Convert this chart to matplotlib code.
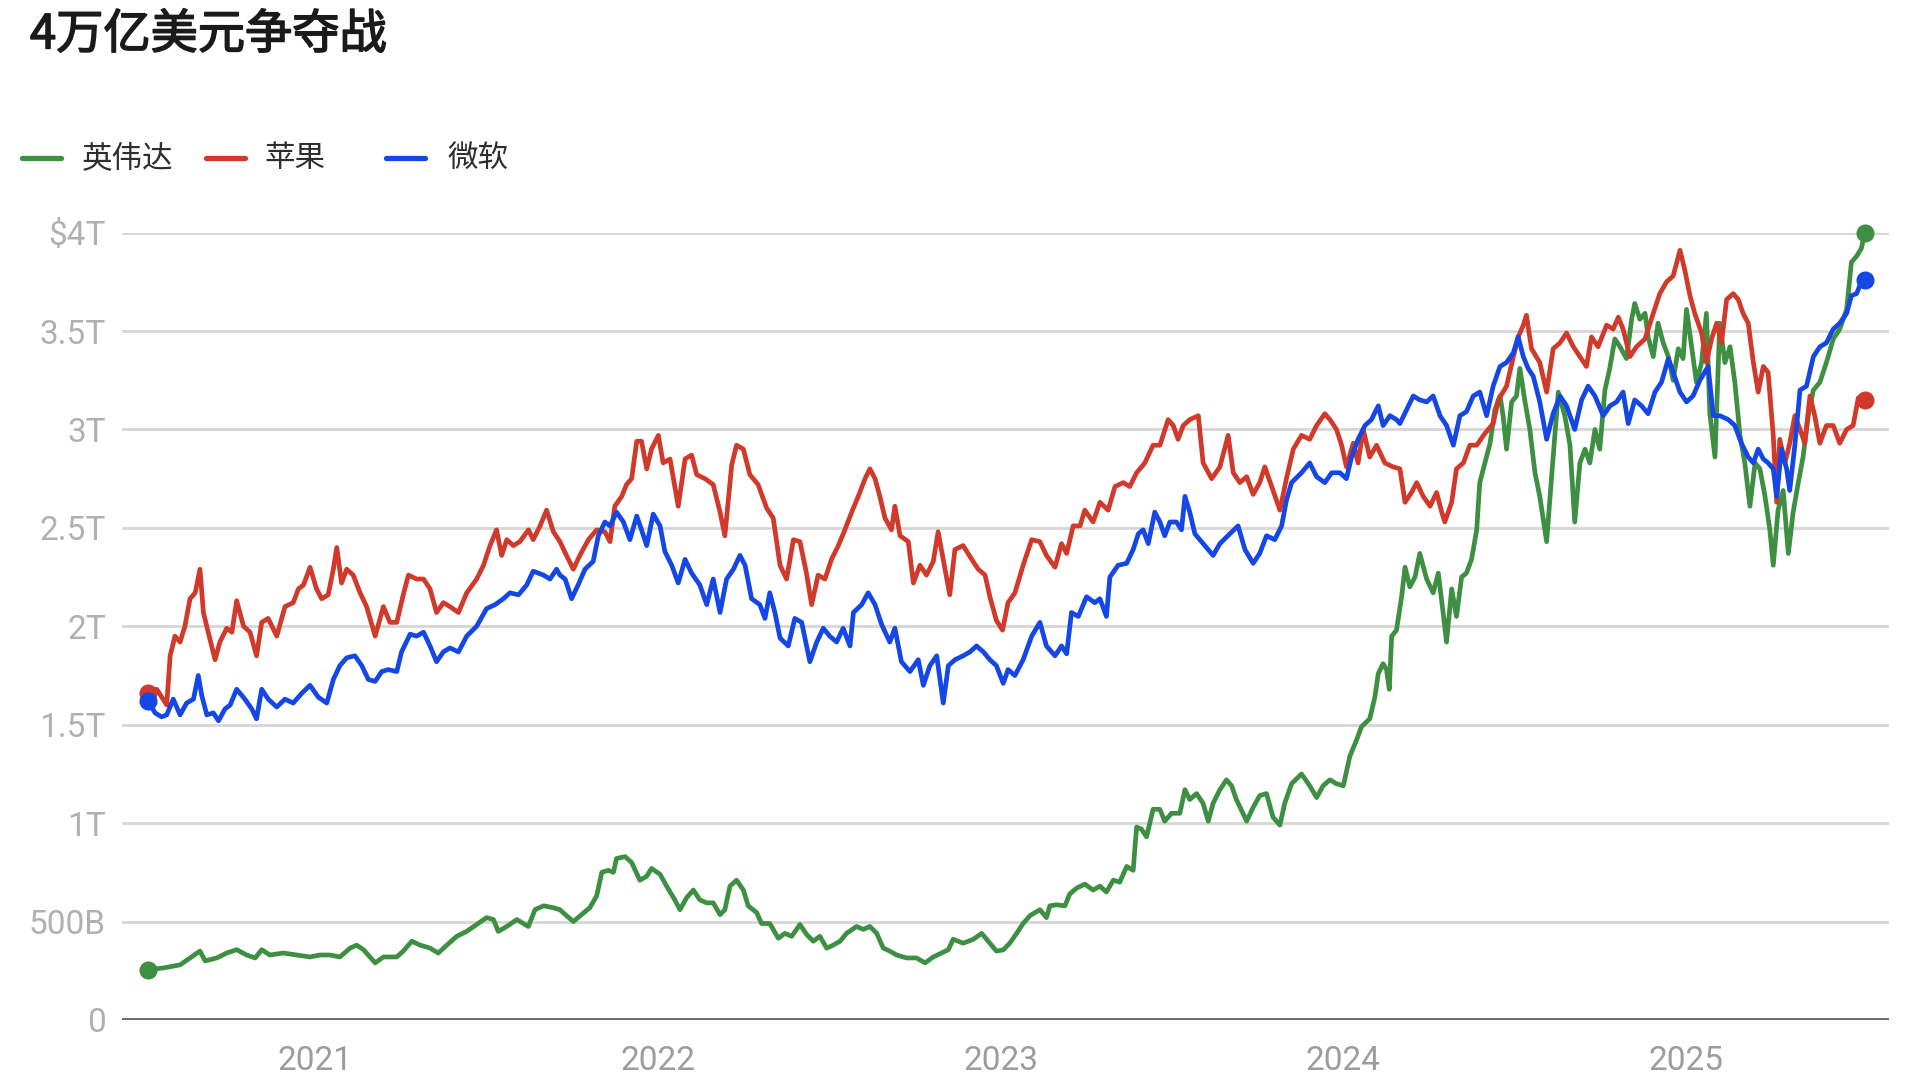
import matplotlib
matplotlib.use("Agg")
import matplotlib.pyplot as plt
import matplotlib.patheffects as pe
from matplotlib.lines import Line2D

plt.rcParams['font.family'] = ['Noto Sans CJK SC', 'DejaVu Sans']

# ---------------- data (decimal year, market cap in trillion USD) ----------------
nvda_t = [2020.514, 2020.558, 2020.607, 2020.636, 2020.665, 2020.680, 2020.714, 2020.743, 2020.772, 2020.801,
          2020.826, 2020.845, 2020.869, 2020.908, 2020.947, 2020.986, 2021.015, 2021.044, 2021.073, 2021.103,
          2021.122, 2021.142, 2021.161, 2021.176, 2021.200, 2021.239, 2021.258, 2021.283, 2021.307, 2021.336,
          2021.360, 2021.385, 2021.414, 2021.443, 2021.472, 2021.501, 2021.521, 2021.535, 2021.560, 2021.589,
          2021.608, 2021.623, 2021.642, 2021.667, 2021.696,
          2021.715, 2021.734, 2021.754, 2021.778, 2021.802, 2021.822, 2021.837, 2021.856, 2021.871, 2021.880,
          2021.905, 2021.924, 2021.948, 2021.968, 2021.982, 2022.007, 2022.026, 2022.050, 2022.065, 2022.084,
          2022.104, 2022.123, 2022.143, 2022.162, 2022.182, 2022.196, 2022.211, 2022.230, 2022.250, 2022.264,
          2022.289, 2022.303, 2022.327, 2022.352, 2022.371, 2022.391, 2022.415, 2022.434, 2022.454, 2022.473,
          2022.493, 2022.512, 2022.532, 2022.551, 2022.580, 2022.600, 2022.619, 2022.639, 2022.658, 2022.677,
          2022.697, 2022.726, 2022.755, 2022.780, 2022.804, 2022.828, 2022.848, 2022.862, 2022.891, 2022.921,
          2022.945,
          2022.969, 2022.988, 2023.008, 2023.027, 2023.047, 2023.066, 2023.086, 2023.115, 2023.134, 2023.144,
          2023.163, 2023.188, 2023.202, 2023.222, 2023.246, 2023.270, 2023.290, 2023.309, 2023.329, 2023.348,
          2023.368, 2023.387, 2023.397, 2023.411, 2023.426, 2023.445, 2023.465, 2023.479, 2023.499, 2023.523,
          2023.538, 2023.552, 2023.572, 2023.591, 2023.606, 2023.620, 2023.640, 2023.659, 2023.674, 2023.688,
          2023.718, 2023.737, 2023.756, 2023.776, 2023.795, 2023.815, 2023.829, 2023.849, 2023.878, 2023.902,
          2023.922, 2023.941, 2023.961, 2023.980, 2024.000, 2024.019, 2024.038, 2024.053, 2024.077, 2024.092,
          2024.102, 2024.116, 2024.126, 2024.134, 2024.141, 2024.155, 2024.170, 2024.180, 2024.194, 2024.209,
          2024.223,
          2024.243, 2024.262, 2024.277, 2024.291, 2024.301, 2024.316, 2024.330, 2024.345, 2024.359, 2024.374,
          2024.389, 2024.398, 2024.413, 2024.428, 2024.442, 2024.457, 2024.466, 2024.476, 2024.491, 2024.505,
          2024.515, 2024.530, 2024.544, 2024.559, 2024.573, 2024.593, 2024.607, 2024.627, 2024.646, 2024.661,
          2024.675, 2024.690, 2024.705, 2024.719, 2024.734, 2024.748, 2024.763, 2024.777, 2024.792, 2024.807,
          2024.826, 2024.841, 2024.850, 2024.865, 2024.880, 2024.889, 2024.904, 2024.918, 2024.933, 2024.948,
          2024.962, 2024.977, 2024.991, 2025.001, 2025.016, 2025.030, 2025.045, 2025.059, 2025.069, 2025.084,
          2025.098, 2025.113, 2025.128, 2025.142, 2025.157, 2025.171, 2025.186, 2025.201, 2025.215, 2025.230,
          2025.244, 2025.254, 2025.268, 2025.283, 2025.298, 2025.312, 2025.327, 2025.341, 2025.356, 2025.371,
          2025.390, 2025.409, 2025.429, 2025.448, 2025.468, 2025.482, 2025.497, 2025.511, 2025.521]
nvda_v = [0.255, 0.264, 0.28, 0.315, 0.35, 0.30, 0.315, 0.34, 0.357, 0.33,
          0.315, 0.357, 0.33, 0.34, 0.33, 0.32, 0.33, 0.33, 0.32, 0.365,
          0.38, 0.357, 0.32, 0.29, 0.32, 0.32, 0.35, 0.40, 0.38, 0.365,
          0.34, 0.38, 0.425, 0.45, 0.485, 0.52, 0.51, 0.45, 0.475, 0.51,
          0.49, 0.475, 0.56, 0.58, 0.57,
          0.56, 0.53, 0.50, 0.535, 0.57, 0.63, 0.75, 0.76, 0.75, 0.82,
          0.83, 0.80, 0.71, 0.73, 0.77, 0.74, 0.68, 0.61, 0.56, 0.62,
          0.66, 0.61, 0.595, 0.595, 0.535, 0.56, 0.68, 0.71, 0.66, 0.58,
          0.545, 0.49, 0.49, 0.415, 0.44, 0.425, 0.485, 0.435, 0.40, 0.425,
          0.365, 0.38, 0.40, 0.44, 0.475, 0.46, 0.475, 0.44, 0.365, 0.35,
          0.33, 0.315, 0.315, 0.29, 0.32, 0.34, 0.357, 0.41, 0.39, 0.41,
          0.44,
          0.39, 0.35, 0.356, 0.39, 0.44, 0.49, 0.53, 0.56, 0.52, 0.58,
          0.585, 0.58, 0.64, 0.67, 0.69, 0.66, 0.68, 0.65, 0.71, 0.70,
          0.78, 0.76, 0.98, 0.97, 0.93, 1.07, 1.07, 1.01, 1.05, 1.05,
          1.17, 1.12, 1.15, 1.10, 1.01, 1.10, 1.17, 1.22, 1.19, 1.12,
          1.01, 1.08, 1.14, 1.15, 1.03, 0.99, 1.10, 1.20, 1.25, 1.19,
          1.13, 1.19, 1.22, 1.20, 1.19, 1.34, 1.42, 1.49, 1.53, 1.64,
          1.76, 1.81, 1.78, 1.68, 1.95, 1.98, 2.15, 2.30, 2.20, 2.25,
          2.37,
          2.24, 2.17, 2.27, 2.07, 1.92, 2.19, 2.05, 2.25, 2.27, 2.34,
          2.49, 2.73, 2.83, 2.93, 3.10, 3.17, 3.07, 2.90, 3.14, 3.17,
          3.31, 3.14, 3.00, 2.78, 2.66, 2.43, 2.75, 3.19, 3.07, 2.92,
          2.53, 2.83, 2.90, 2.83, 3.00, 2.90, 3.20, 3.31, 3.46, 3.42,
          3.36, 3.56, 3.64, 3.56, 3.59, 3.47, 3.37, 3.54, 3.44, 3.37,
          3.25, 3.41, 3.36, 3.61, 3.42, 3.24, 3.34, 3.59, 3.08, 2.86,
          3.54, 3.34, 3.42, 3.24, 2.97, 2.83, 2.61, 2.83, 2.80, 2.66,
          2.49, 2.31, 2.59, 2.69, 2.37, 2.58, 2.73, 2.86, 3.07, 3.20,
          3.24, 3.34, 3.46, 3.51, 3.61, 3.85, 3.88, 3.92, 4.00]

aapl_t = [2020.514, 2020.539, 2020.568, 2020.578, 2020.592, 2020.607, 2020.621, 2020.636, 2020.651, 2020.665,
          2020.675, 2020.689, 2020.709, 2020.723, 2020.743, 2020.758, 2020.772, 2020.792, 2020.811, 2020.830,
          2020.845, 2020.864, 2020.889, 2020.913, 2020.937, 2020.952, 2020.967, 2020.986, 2021.005, 2021.020,
          2021.039, 2021.054, 2021.064, 2021.078, 2021.093, 2021.112, 2021.132, 2021.151, 2021.176, 2021.200,
          2021.219, 2021.239, 2021.258, 2021.273, 2021.297, 2021.317, 2021.336, 2021.355, 2021.375, 2021.394,
          2021.419, 2021.443, 2021.472, 2021.492, 2021.511, 2021.530, 2021.545, 2021.560, 2021.579, 2021.598,
          2021.623, 2021.637, 2021.657, 2021.676, 2021.696,
          2021.715, 2021.734, 2021.754, 2021.773, 2021.798, 2021.822, 2021.846, 2021.861, 2021.875, 2021.895,
          2021.909, 2021.924, 2021.939, 2021.953, 2021.968, 2021.982, 2022.002, 2022.016, 2022.036, 2022.060,
          2022.080, 2022.099, 2022.114, 2022.138, 2022.162, 2022.182, 2022.196, 2022.216, 2022.230, 2022.250,
          2022.269, 2022.293, 2022.318, 2022.337, 2022.357, 2022.376, 2022.396, 2022.415, 2022.434, 2022.449,
          2022.468, 2022.488, 2022.507, 2022.527, 2022.546, 2022.566, 2022.585, 2022.605, 2022.619, 2022.634,
          2022.648, 2022.663, 2022.682, 2022.692, 2022.707, 2022.731, 2022.746, 2022.765, 2022.784, 2022.804,
          2022.818, 2022.833, 2022.852, 2022.867, 2022.891, 2022.916, 2022.935, 2022.955,
          2022.969, 2022.988, 2023.006, 2023.022, 2023.042, 2023.066, 2023.091, 2023.115, 2023.134, 2023.159,
          2023.178, 2023.193, 2023.212, 2023.232, 2023.246, 2023.270, 2023.290, 2023.314, 2023.334, 2023.358,
          2023.377, 2023.397, 2023.421, 2023.445, 2023.465, 2023.489, 2023.504, 2023.518, 2023.533, 2023.552,
          2023.577, 2023.591, 2023.616, 2023.640, 2023.664, 2023.679, 2023.698, 2023.718, 2023.737, 2023.756,
          2023.771, 2023.795, 2023.815, 2023.834, 2023.854, 2023.878, 2023.902, 2023.922, 2023.946, 2023.961,
          2023.980, 2023.995, 2024.009, 2024.029, 2024.043, 2024.058, 2024.077, 2024.097, 2024.121, 2024.145,
          2024.165, 2024.180, 2024.199, 2024.214, 2024.233, 2024.253, 2024.272, 2024.287, 2024.296, 2024.316,
          2024.330, 2024.350, 2024.369, 2024.389, 2024.413, 2024.437, 2024.452, 2024.476, 2024.496, 2024.510,
          2024.525, 2024.534, 2024.549, 2024.573, 2024.593, 2024.612, 2024.632, 2024.651, 2024.671, 2024.690,
          2024.709, 2024.724, 2024.743, 2024.768, 2024.787, 2024.802, 2024.816, 2024.836, 2024.855, 2024.880,
          2024.904, 2024.923, 2024.943, 2024.962, 2024.982, 2024.996, 2025.011, 2025.025, 2025.045, 2025.059,
          2025.074, 2025.089, 2025.103, 2025.118, 2025.137, 2025.152, 2025.166, 2025.181, 2025.196, 2025.210,
          2025.225, 2025.239, 2025.254, 2025.264, 2025.273, 2025.288, 2025.302, 2025.317, 2025.332, 2025.346,
          2025.361, 2025.375, 2025.390, 2025.409, 2025.429, 2025.448, 2025.468, 2025.487, 2025.502, 2025.521]
aapl_v = [1.66, 1.68, 1.60, 1.85, 1.95, 1.92, 2.00, 2.14, 2.17, 2.29,
          2.07, 1.97, 1.83, 1.92, 1.99, 1.97, 2.13, 2.00, 1.97, 1.85,
          2.02, 2.04, 1.95, 2.10, 2.12, 2.19, 2.21, 2.30, 2.19, 2.14,
          2.16, 2.29, 2.40, 2.22, 2.29, 2.26, 2.17, 2.10, 1.95, 2.10,
          2.02, 2.02, 2.16, 2.26, 2.24, 2.24, 2.19, 2.07, 2.12, 2.10,
          2.07, 2.17, 2.24, 2.31, 2.41, 2.49, 2.36, 2.44, 2.41, 2.43,
          2.49, 2.44, 2.51, 2.59, 2.48,
          2.43, 2.36, 2.29, 2.36, 2.44, 2.49, 2.48, 2.43, 2.61, 2.66,
          2.72, 2.75, 2.94, 2.94, 2.80, 2.90, 2.97, 2.83, 2.85, 2.61,
          2.85, 2.87, 2.77, 2.75, 2.72, 2.58, 2.46, 2.82, 2.92, 2.90,
          2.77, 2.72, 2.60, 2.55, 2.31, 2.24, 2.44, 2.43, 2.27, 2.11,
          2.26, 2.24, 2.34, 2.41, 2.49, 2.58, 2.66, 2.75, 2.80, 2.75,
          2.66, 2.55, 2.49, 2.61, 2.46, 2.43, 2.22, 2.31, 2.26, 2.33,
          2.48, 2.34, 2.16, 2.39, 2.41, 2.34, 2.29, 2.26,
          2.15, 2.03, 1.98, 2.12, 2.17, 2.31, 2.44, 2.43, 2.36, 2.30,
          2.42, 2.37, 2.51, 2.51, 2.59, 2.53, 2.63, 2.59, 2.71, 2.73,
          2.71, 2.78, 2.83, 2.92, 2.92, 3.05, 3.02, 2.95, 3.02, 3.05,
          3.07, 2.83, 2.75, 2.81, 2.97, 2.78, 2.73, 2.76, 2.67, 2.73,
          2.81, 2.69, 2.59, 2.75, 2.90, 2.97, 2.95, 3.02, 3.08, 3.05,
          3.00, 2.92, 2.81, 2.93, 2.83, 3.00, 2.86, 2.92, 2.83, 2.81,
          2.80, 2.63, 2.68, 2.73, 2.66, 2.61, 2.68, 2.58, 2.53, 2.63,
          2.80, 2.83, 2.92, 2.92, 2.98, 3.03, 3.15, 3.22, 3.37, 3.47,
          3.53, 3.58, 3.41, 3.34, 3.19, 3.41, 3.44, 3.49, 3.42, 3.37,
          3.32, 3.47, 3.42, 3.53, 3.51, 3.57, 3.51, 3.37, 3.42, 3.46,
          3.59, 3.69, 3.75, 3.78, 3.91, 3.81, 3.68, 3.59, 3.49, 3.34,
          3.46, 3.54, 3.44, 3.66, 3.69, 3.66, 3.59, 3.54, 3.34, 3.19,
          3.32, 3.29, 2.97, 2.63, 2.95, 2.83, 2.93, 3.07, 3.00, 2.93,
          3.17, 3.07, 2.93, 3.02, 3.02, 2.93, 3.00, 3.02, 3.16, 3.15]

msft_t = [2020.514, 2020.534, 2020.553, 2020.568, 2020.587, 2020.607, 2020.626, 2020.646, 2020.660, 2020.670,
          2020.685, 2020.704, 2020.719, 2020.738, 2020.753, 2020.772, 2020.796, 2020.816, 2020.830, 2020.845,
          2020.864, 2020.889, 2020.913, 2020.937, 2020.962, 2020.986, 2021.010, 2021.035, 2021.054, 2021.073,
          2021.093, 2021.117, 2021.137, 2021.156, 2021.176, 2021.195, 2021.214, 2021.239, 2021.253, 2021.278,
          2021.297, 2021.317, 2021.336, 2021.355, 2021.375, 2021.394, 2021.419, 2021.443, 2021.472, 2021.501,
          2021.526, 2021.550, 2021.569, 2021.594, 2021.618, 2021.637, 2021.667, 2021.686, 2021.705,
          2021.715, 2021.730, 2021.749, 2021.768, 2021.788, 2021.812, 2021.827, 2021.846, 2021.861, 2021.880,
          2021.900, 2021.919, 2021.939, 2021.953, 2021.968, 2021.987, 2022.007, 2022.021, 2022.041, 2022.060,
          2022.080, 2022.099, 2022.123, 2022.143, 2022.162, 2022.182, 2022.201, 2022.221, 2022.240, 2022.255,
          2022.274, 2022.298, 2022.313, 2022.327, 2022.342, 2022.357, 2022.381, 2022.400, 2022.420, 2022.444,
          2022.464, 2022.483, 2022.502, 2022.522, 2022.541, 2022.561, 2022.571, 2022.595, 2022.614, 2022.634,
          2022.653, 2022.677, 2022.692, 2022.711, 2022.736, 2022.760, 2022.775, 2022.794, 2022.814, 2022.833,
          2022.848, 2022.867, 2022.891, 2022.911, 2022.930, 2022.950,
          2022.969, 2022.988, 2023.008, 2023.022, 2023.042, 2023.066, 2023.091, 2023.115, 2023.134, 2023.159,
          2023.178, 2023.193, 2023.207, 2023.227, 2023.251, 2023.275, 2023.290, 2023.309, 2023.319, 2023.343,
          2023.368, 2023.387, 2023.402, 2023.416, 2023.431, 2023.450, 2023.465, 2023.479, 2023.494, 2023.513,
          2023.528, 2023.538, 2023.552, 2023.567, 2023.591, 2023.620, 2023.640, 2023.669, 2023.693, 2023.713,
          2023.737, 2023.756, 2023.776, 2023.800, 2023.820, 2023.834, 2023.849, 2023.878, 2023.902, 2023.922,
          2023.946, 2023.966, 2023.990, 2024.009, 2024.024, 2024.043, 2024.063, 2024.082, 2024.102, 2024.116,
          2024.136, 2024.155,
          2024.165, 2024.204, 2024.223, 2024.243, 2024.262, 2024.282, 2024.301, 2024.321, 2024.340, 2024.359,
          2024.379, 2024.398, 2024.418, 2024.437, 2024.457, 2024.476, 2024.496, 2024.510, 2024.525, 2024.539,
          2024.554, 2024.573, 2024.593, 2024.612, 2024.632, 2024.651, 2024.675, 2024.695, 2024.714, 2024.734,
          2024.758, 2024.778, 2024.797, 2024.816, 2024.831, 2024.850, 2024.870, 2024.889, 2024.909, 2024.928,
          2024.948, 2024.962, 2024.982, 2025.001, 2025.020, 2025.040, 2025.064, 2025.079, 2025.098, 2025.123,
          2025.142, 2025.161, 2025.181, 2025.196, 2025.210, 2025.225, 2025.239, 2025.254, 2025.264, 2025.278,
          2025.293, 2025.302, 2025.317, 2025.332, 2025.351, 2025.371, 2025.390, 2025.409, 2025.429, 2025.448,
          2025.468, 2025.482, 2025.497, 2025.511, 2025.521]
msft_v = [1.62, 1.56, 1.54, 1.55, 1.63, 1.55, 1.61, 1.63, 1.75, 1.65,
          1.55, 1.56, 1.52, 1.58, 1.60, 1.68, 1.63, 1.58, 1.53, 1.68,
          1.63, 1.59, 1.63, 1.61, 1.66, 1.70, 1.64, 1.61, 1.73, 1.80,
          1.84, 1.85, 1.80, 1.73, 1.72, 1.77, 1.78, 1.77, 1.87, 1.96,
          1.95, 1.97, 1.90, 1.82, 1.87, 1.89, 1.87, 1.95, 2.00, 2.09,
          2.11, 2.14, 2.17, 2.16, 2.21, 2.28, 2.26, 2.24, 2.29,
          2.26, 2.24, 2.14, 2.21, 2.29, 2.33, 2.46, 2.53, 2.51, 2.58,
          2.53, 2.44, 2.56, 2.49, 2.41, 2.57, 2.51, 2.38, 2.31, 2.22,
          2.34, 2.27, 2.21, 2.11, 2.24, 2.07, 2.24, 2.29, 2.36, 2.31,
          2.14, 2.11, 2.04, 2.17, 2.07, 1.94, 1.90, 2.04, 2.02, 1.82,
          1.92, 1.99, 1.95, 1.92, 1.99, 1.90, 2.07, 2.11, 2.17, 2.11,
          2.01, 1.92, 1.99, 1.82, 1.77, 1.83, 1.70, 1.80, 1.85, 1.61,
          1.80, 1.83, 1.85, 1.87, 1.90, 1.87,
          1.83, 1.80, 1.71, 1.78, 1.75, 1.83, 1.95, 2.02, 1.90, 1.85,
          1.90, 1.86, 2.07, 2.05, 2.15, 2.12, 2.14, 2.05, 2.25, 2.31,
          2.32, 2.39, 2.47, 2.49, 2.42, 2.58, 2.53, 2.46, 2.53, 2.53,
          2.49, 2.66, 2.58, 2.47, 2.42, 2.36, 2.42, 2.47, 2.51, 2.39,
          2.32, 2.37, 2.46, 2.44, 2.51, 2.64, 2.73, 2.78, 2.83, 2.76,
          2.73, 2.78, 2.78, 2.75, 2.86, 2.95, 3.02, 3.05, 3.12, 3.02,
          3.07, 3.05,
          3.03, 3.17, 3.15, 3.14, 3.17, 3.07, 3.02, 2.92, 3.07, 3.09,
          3.17, 3.19, 3.07, 3.22, 3.32, 3.34, 3.39, 3.47, 3.37, 3.31,
          3.27, 3.14, 2.95, 3.08, 3.17, 3.12, 3.00, 3.15, 3.22, 3.17,
          3.07, 3.12, 3.14, 3.19, 3.03, 3.15, 3.12, 3.08, 3.19, 3.24,
          3.36, 3.29, 3.19, 3.14, 3.17, 3.25, 3.32, 3.07, 3.07, 3.05,
          3.02, 2.93, 2.86, 2.83, 2.90, 2.85, 2.83, 2.80, 2.66, 2.90,
          2.80, 2.69, 2.92, 3.20, 3.22, 3.37, 3.42, 3.44, 3.51, 3.54,
          3.59, 3.68, 3.69, 3.75, 3.76]

series_names = ['英伟达', '苹果', '微软']
series_colors = ['#3d8f42', '#d1392b', '#1546e6']

y_ticks = [0, 0.5, 1, 1.5, 2, 2.5, 3, 3.5, 4]
y_labels = ['0', '500B', '1T', '1.5T', '2T', '2.5T', '3T', '3.5T', '$4T']
x_ticks = [2021, 2022, 2023, 2024, 2025]
x_labels = ['2021', '2022', '2023', '2024', '2025']

title = '4万亿美元争夺战'

# ---------------- figure ----------------
fig = plt.figure(figsize=(19.2, 10.8), dpi=100)
fig.patch.set_facecolor('white')
ax = fig.add_axes([0.0638, 0.0556, 0.9203, 0.729])
ax.set_xlim(2020.439, 2025.593)
ax.set_ylim(0, 4)

data = [(nvda_t, nvda_v), (aapl_t, aapl_v), (msft_t, msft_v)]
for (t, v), c in zip(data, series_colors):
    ax.plot(t, v, color=c, lw=3.4, clip_on=False, solid_joinstyle='round',
            solid_capstyle='round', zorder=3)
    ax.plot([t[0], t[-1]], [v[0], v[-1]], 'o', color=c, ms=12, clip_on=False, zorder=4)

ax.set_yticks(y_ticks)
ax.set_yticklabels(y_labels)
ax.set_xticks(x_ticks)
ax.set_xticklabels(x_labels)
ax.grid(axis='y', color='#d6d6d6', lw=2.0, zorder=1)
ax.grid(axis='x', visible=False)
for s in ax.spines.values():
    s.set_visible(False)
ax.axhline(0, color='#6a6a6a', lw=2.8, zorder=2)
ax.tick_params(axis='both', length=0)
ax.tick_params(axis='y', pad=12, labelsize=24, labelcolor='#b0b0b0')
ax.tick_params(axis='x', pad=18, labelsize=24, labelcolor='#9c9c9c')
for lab in ax.get_yticklabels() + ax.get_xticklabels():
    lab.set_fontfamily(['Roboto', 'DejaVu Sans'])

# title (regular weight thickened slightly to approximate a medium weight)
fig.text(0.0156, 0.9674, title, fontsize=34, color='#1a1a1a', va='center', ha='left',
         path_effects=[pe.withStroke(linewidth=1.1, foreground='#1a1a1a')])

# legend (manual)
leg_y = 0.8533
leg_lines = [(0.0115, 0.0318), (0.1073, 0.1276), (0.2010, 0.2214)]
leg_text_x = [0.0427, 0.1378, 0.2328]
for (x0, x1), tx, name, c in zip(leg_lines, leg_text_x, series_names, series_colors):
    fig.add_artist(Line2D([x0, x1], [leg_y, leg_y], transform=fig.transFigure,
                          color=c, lw=3.8, solid_capstyle='round'))
    fig.text(tx, leg_y, name, fontsize=22, color='#2e2e2e', va='center', ha='left')

fig.savefig('out.png', dpi=100, facecolor='white')
